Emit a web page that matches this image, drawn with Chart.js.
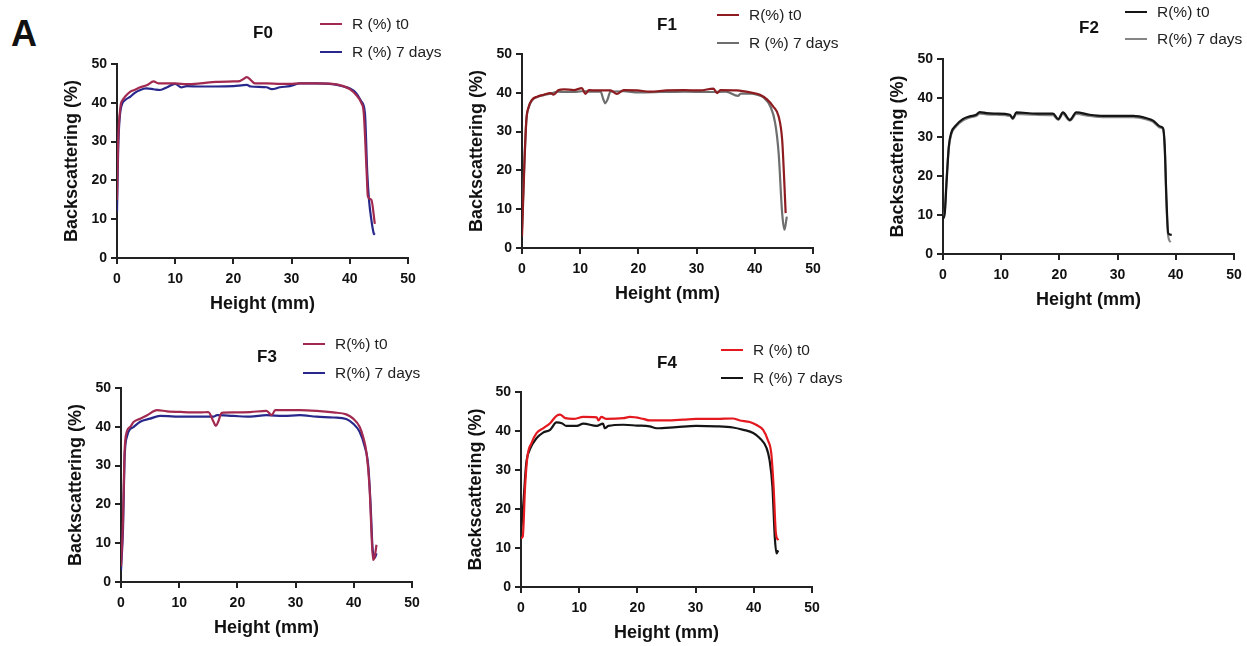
<!DOCTYPE html>
<html>
<head>
<meta charset="utf-8">
<script src="https://cdn.jsdelivr.net/npm/chart.js@4.4.0/dist/chart.umd.min.js"></script>
<style>
body { margin: 0; width: 1247px; height: 646px; background: #fff; position: relative; overflow: hidden; font-family: "Liberation Sans", Arial, sans-serif; }
canvas { position: absolute; }
#tag { position: absolute; left: 11px; top: 14px; font-weight: bold; font-size: 36px; line-height: 40px; color: #111; }
</style>
</head>
<body>
<div id="tag">A</div>
<script>

// F0
var f0HeightT0 = [0, 0.2, 0.6, 1.0, 1.4, 2.3, 3, 4, 5.1, 6.3, 7.1, 8.6, 10, 12, 14.3, 17, 20, 21.1, 21.8, 22.3, 22.9, 23.7, 25.7, 28, 29.7, 31.4, 34, 37, 38.9, 40, 41.1, 42, 42.4, 42.9, 43.1, 43.7, 44.3];
var f0T0 = [15, 30, 39, 40.8, 41.6, 42.9, 43.3, 44, 44.5, 45.5, 45, 45, 45, 44.8, 45, 45.4, 45.5, 45.6, 46.2, 46.6, 46, 45, 45, 44.9, 44.9, 45, 45, 44.9, 44.3, 43.5, 42, 39.9, 37.3, 21.9, 15.9, 15, 8.8];
var f0HeightD7 = [0, 0.2, 0.6, 1.4, 2.3, 3, 4, 5, 6.3, 7.4, 8.6, 10, 11, 12, 14.3, 17, 20, 22.3, 23, 25.7, 26.6, 28, 29.7, 31.4, 34.3, 37, 38.9, 40, 41.1, 42, 42.6, 43, 43.3, 43.7, 44.1, 44.3];
var f0D7 = [12, 28, 38, 40.7, 41.6, 42.5, 43.3, 43.7, 43.5, 43.3, 44, 44.9, 44, 44.3, 44.2, 44.2, 44.3, 44.6, 44.2, 44, 43.5, 44, 44.3, 45, 45, 44.8, 44.2, 43.7, 42.5, 40.3, 37.3, 21.9, 15, 9.9, 6.4, 6];

// F1
var f1HeightT0 = [0, 0.4, 0.75, 1.15, 1.7, 2.6, 3.7, 4.9, 5.4, 6.3, 7.2, 8.9, 10.3, 10.9, 11.5, 12.9, 15.2, 16.3, 17.5, 19.8, 22, 24.9, 27.8, 30.6, 32.9, 33.5, 34.1, 36.9, 39.2, 40.9, 42.1, 43.2, 44.1, 44.7, 45, 45.3];
var f1T0 = [3, 21, 33, 36.4, 38.2, 39, 39.5, 39.9, 39.5, 40.7, 40.9, 40.7, 41.2, 39.7, 40.7, 40.6, 40.6, 39.7, 40.7, 40.6, 40.3, 40.6, 40.7, 40.6, 41.1, 39.9, 40.7, 40.6, 40.1, 39.5, 38.3, 36.4, 33.9, 27.9, 19.3, 9];
var f1HeightD7 = [0, 0.4, 0.75, 1.15, 1.7, 2.6, 3.7, 4.9, 6.3, 7.2, 8.9, 10.3, 12, 13.5, 14, 14.3, 14.7, 15.2, 17.5, 20, 24, 28, 32, 35, 37.1, 37.6, 39.5, 40.8, 41.5, 42.7, 43.5, 44.1, 44.7, 45.1, 45.5];
var f1D7 = [5, 22, 33, 36.2, 38, 38.9, 39.4, 39.8, 40.3, 40.2, 40.2, 40.4, 40.3, 40.3, 38.2, 37.3, 38.3, 40.3, 40.4, 40.1, 40.2, 40.3, 40.2, 40.3, 39.2, 39.8, 39.8, 39.3, 38.8, 36.4, 32.2, 24.4, 9, 4.7, 8.1];

// F2
var f2HeightT0 = [0, 0.3, 0.6, 1, 1.4, 2.3, 3.4, 4.6, 5.7, 6.3, 7.5, 9.2, 11.5, 12, 12.6, 16, 18.9, 19.8, 20.6, 21.8, 22.9, 25.2, 27.5, 30.4, 32.7, 35, 36.1, 37.3, 37.8, 38.1, 38.4, 38.7, 39.3];
var f2T0 = [9, 10.4, 18, 27.6, 31, 33.1, 34.6, 35.3, 35.7, 36.4, 36.1, 36, 35.7, 34.8, 36.3, 36, 36, 34.6, 36.3, 34.4, 36.3, 35.7, 35.4, 35.4, 35.4, 34.8, 34.2, 32.7, 32.3, 27.6, 13.9, 5.3, 4.9];
var f2HeightD7 = [0, 0.3, 0.6, 1, 1.4, 2.3, 3.4, 4.6, 5.7, 6.3, 7.5, 9.2, 11.5, 12, 12.6, 16, 18.9, 19.8, 20.6, 21.8, 22.9, 25.2, 27.5, 30.4, 32.7, 35, 36.1, 37.3, 37.8, 38.1, 38.4, 38.7, 39.1];
var f2D7 = [9.5, 11, 19, 27.2, 30.6, 32.8, 34.2, 35, 35.4, 36, 35.8, 35.7, 35.4, 34.6, 35.9, 35.7, 35.6, 34.4, 35.9, 34.2, 35.9, 35.4, 35.1, 35.1, 35.1, 34.5, 33.9, 32.4, 32, 27, 12.5, 4.5, 3];

// F3
var f3HeightT0 = [0, 0.35, 0.6, 1, 1.6, 2.2, 3.3, 4.5, 6.2, 7.9, 10.7, 13.6, 15, 15.9, 16.3, 16.7, 17.3, 19.3, 22.2, 25, 25.9, 26.5, 30.7, 33.6, 36.5, 38.7, 39.9, 41, 41.6, 42.2, 42.7, 43, 43.3, 43.6, 43.9];
var f3T0 = [4, 16, 33, 38.7, 40, 41.3, 42.1, 43, 44.3, 44, 43.8, 43.7, 43.8, 41.3, 40.2, 41.3, 43.6, 43.7, 43.8, 44.1, 43, 44.3, 44.3, 44.1, 43.7, 43.2, 42.1, 40, 37.4, 33.1, 24.6, 14.3, 5.7, 6.6, 9.6];
var f3HeightD7 = [0, 0.35, 0.6, 1, 2.2, 3.3, 5, 6.7, 10.7, 13.6, 15.9, 16.5, 19.3, 22.2, 25, 27.9, 30.7, 33.6, 36.5, 38.7, 39.9, 41, 41.9, 42.5, 42.9, 43.2, 43.6, 43.9];
var f3D7 = [3, 14, 31.4, 37.4, 40, 41.3, 42.1, 42.8, 42.6, 42.6, 42.6, 43, 42.8, 42.6, 43, 42.8, 43, 42.6, 42.4, 42, 40.8, 38.7, 34.8, 29.7, 19.4, 9.2, 6.2, 7.4];

// F4
var f4HeightT0 = [0, 0.3, 0.7, 1.1, 1.8, 2.7, 3.8, 5, 6.1, 6.7, 7.6, 9, 10.7, 13, 13.3, 13.8, 14.7, 17.6, 18.7, 21, 22.1, 25, 27.9, 30.1, 33.6, 36.4, 37.6, 39.3, 40.4, 41.6, 42.4, 43, 43.4, 43.8, 44.2];
var f4T0 = [12.5, 12.9, 25.7, 33.4, 36.9, 39.5, 40.7, 42, 43.9, 44.2, 43.3, 43.1, 43.6, 43.5, 42.7, 43.6, 43.1, 43.3, 43.6, 43.1, 42.7, 42.7, 42.9, 43.1, 43.1, 43.2, 42.7, 42.3, 41.6, 40.3, 37.7, 34.3, 25.7, 13.7, 12];
var f4HeightD7 = [0, 0.4, 0.9, 1.5, 2.7, 3.8, 5, 6.1, 7, 7.8, 9.6, 10.7, 13, 14.1, 14.4, 15, 17.6, 19.9, 22.1, 23.3, 26.7, 30.1, 33.6, 36.4, 38.2, 39.9, 41, 42.2, 42.7, 43.2, 43.6, 43.9, 44.2];
var f4D7 = [14, 21.4, 31.7, 35.2, 38.2, 39.6, 40.3, 42.2, 42, 41.3, 41.3, 41.9, 41.3, 41.9, 40.7, 41.3, 41.6, 41.4, 41.2, 40.7, 41, 41.3, 41.2, 40.9, 40.3, 39.5, 38.2, 35.6, 32.6, 25.7, 12.9, 8.6, 9.4];

var tickValues = [0, 10, 20, 30, 40, 50];

var FONT = '"Liberation Sans", Arial, sans-serif';

// plot area [left, top, right, bottom], title centre, legend [x, first row y, row gap]
var panels = [
  { title: 'F0', area: [117, 64, 408, 258], titlePos: [263, 33], legend: [320, 24, 28],
    names: ['R (%) t0', 'R (%) 7 days'], colors: ['#A2294F', '#28288C'],
    series: [[f0HeightT0, f0T0], [f0HeightD7, f0D7]] },
  { title: 'F1', area: [522, 54, 813, 248], titlePos: [667, 25], legend: [717, 15, 28],
    names: ['R(%) t0', 'R (%) 7 days'], colors: ['#8E1B1F', '#6E6E6E'],
    series: [[f1HeightT0, f1T0], [f1HeightD7, f1D7]] },
  { title: 'F2', area: [943, 59, 1234, 254], titlePos: [1089, 28], legend: [1125, 12, 27],
    names: ['R(%) t0', 'R(%) 7 days'], colors: ['#151515', '#858585'],
    series: [[f2HeightT0, f2T0], [f2HeightD7, f2D7]] },
  { title: 'F3', area: [121, 388, 412, 582], titlePos: [267, 357], legend: [303, 344, 29],
    names: ['R(%) t0', 'R(%) 7 days'], colors: ['#A2294F', '#28288C'],
    series: [[f3HeightT0, f3T0], [f3HeightD7, f3D7]] },
  { title: 'F4', area: [521, 392, 812, 587], titlePos: [667, 363], legend: [721, 350, 28],
    names: ['R (%) t0', 'R (%) 7 days'], colors: ['#E3191F', '#151515'],
    series: [[f4HeightT0, f4T0], [f4HeightD7, f4D7]] }
];

var PAD_LEFT = 70, PAD_TOP = 65, PAD_RIGHT = 45, PAD_BOTTOM = 62;

// title and two-row legend drawn next to the plot
var panelDecor = {
  id: 'panelDecor',
  afterDraw: function(chart) {
    var o = chart.options.plugins.panelDecor;
    var ctx = chart.ctx;
    ctx.save();
    ctx.fillStyle = '#111';
    ctx.font = 'bold 17px ' + FONT;
    ctx.textAlign = 'center';
    ctx.textBaseline = 'middle';
    ctx.fillText(o.title, o.titleX, o.titleY);
    ctx.font = '15.5px ' + FONT;
    ctx.textAlign = 'left';
    chart.data.datasets.forEach(function(ds, i) {
      var y = o.legendY + i * o.gap;
      ctx.strokeStyle = ds.borderColor;
      ctx.lineWidth = 2;
      ctx.beginPath();
      ctx.moveTo(o.legendX, y);
      ctx.lineTo(o.legendX + 22, y);
      ctx.stroke();
      ctx.fillStyle = '#222';
      ctx.fillText(ds.label, o.legendX + 32, y + 1);
    });
    ctx.restore();
  }
};

function axisOptions(titleText, isX) {
  return {
    type: 'linear',
    min: 0,
    max: 50,
    afterBuildTicks: function(s) { s.ticks = tickValues.map(function(v) { return { value: v }; }); },
    afterFit: function(s) { if (isX) s.height = PAD_BOTTOM; else s.width = PAD_LEFT; },
    ticks: { color: '#111', font: { size: 14, weight: 'bold', family: FONT }, padding: isX ? 7 : 4 },
    grid: { drawOnChartArea: false, drawTicks: true, tickLength: 6, color: '#222', lineWidth: 2 },
    border: { display: true, color: '#222', width: 2 },
    title: { display: true, text: titleText, color: '#111',
      font: { size: 18, weight: 'bold', family: FONT },
      padding: isX ? { top: 0, bottom: 5 } : { top: 14, bottom: 0 } }
  };
}

panels.forEach(function(p) {
  var left = p.area[0] - PAD_LEFT, top = p.area[1] - PAD_TOP;
  var w = p.area[2] - p.area[0] + PAD_LEFT + PAD_RIGHT;
  var h = p.area[3] - p.area[1] + PAD_TOP + PAD_BOTTOM;
  var cv = document.createElement('canvas');
  cv.width = w; cv.height = h;
  cv.style.left = left + 'px'; cv.style.top = top + 'px';
  cv.style.width = w + 'px'; cv.style.height = h + 'px';
  document.body.appendChild(cv);

  var datasets = p.series.map(function(s, i) {
    return {
      label: p.names[i],
      data: s[0].map(function(x, k) { return { x: x, y: s[1][k] }; }),
      borderColor: p.colors[i],
      borderWidth: 2.2,
      pointRadius: 0,
      fill: false,
      cubicInterpolationMode: 'monotone'
    };
  });

  new Chart(cv, {
    type: 'line',
    data: { datasets: datasets },
    options: {
      responsive: false,
      animation: false,
      layout: { padding: { left: 0, top: PAD_TOP, right: PAD_RIGHT, bottom: 0 } },
      scales: { x: axisOptions('Height (mm)', true), y: axisOptions('Backscattering (%)', false) },
      plugins: {
        legend: { display: false },
        tooltip: { enabled: false },
        panelDecor: { title: p.title, titleX: p.titlePos[0] - left, titleY: p.titlePos[1] - top,
          legendX: p.legend[0] - left, legendY: p.legend[1] - top, gap: p.legend[2] }
      }
    },
    plugins: [panelDecor]
  });
});
</script>
</body>
</html>
